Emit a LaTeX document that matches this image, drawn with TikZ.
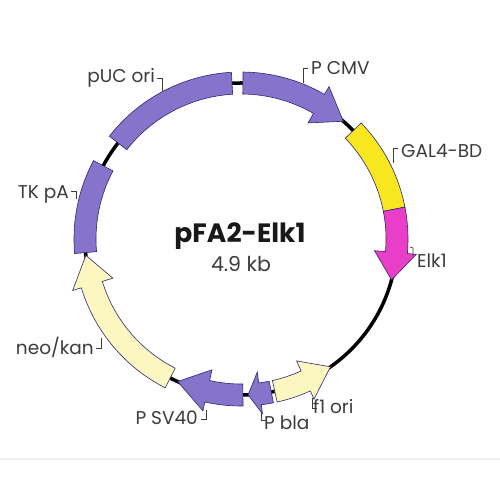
\documentclass[tikz,border=0pt]{standalone}
\usepackage{fontspec}
\setmainfont{Poppins}
\definecolor{purp}{RGB}{134,116,204}
\definecolor{purpline}{RGB}{48,40,110}
\definecolor{gal}{RGB}{248,230,30}
\definecolor{elk}{RGB}{232,62,200}
\definecolor{pale}{RGB}{252,246,192}
\definecolor{txt}{RGB}{60,60,60}
\newcommand{\plseg}[3]{\draw[feat,#1] (#2:167pt) arc[start angle=#2,end angle=#3,radius=167pt] -- (#3:145pt) arc[start angle=#3,end angle=#2,radius=145pt] -- cycle;}
\newcommand{\plarr}[4]{\draw[feat,#1] (#2:167pt) arc[start angle=#2,end angle=#3,radius=167pt] -- (#3:176pt) -- (#4:156pt) -- (#3:134pt) -- (#3:145pt) arc[start angle=#3,end angle=#2,radius=145pt] -- cycle;}
\begin{document}
\begin{tikzpicture}[x=1pt,y=1pt,
  feat/.style={draw=purpline,line width=0.6pt,line join=miter},
  lbl/.style={font=\fontsize{18.5}{20}\selectfont,text=txt,inner sep=0pt},
  tick/.style={draw=txt,line width=0.7pt}]
\useasboundingbox[fill=white] (0,0) rectangle (500,500);
\draw[gray!12,line width=1.5pt] (0,41) -- (500,41);
\begin{scope}[shift={(241,261)}]
  \draw[line width=3.5pt] (0,0) circle[radius=156pt];
  \plseg{fill=purp}{142}{93.3}
  \plarr{fill=purp}{89.3}{60}{49}
  \plseg{fill=gal}{44}{11}
  \plarr{fill=elk}{11}{-5}{-15.2}
  \plarr{fill=pale}{-77.5}{-65.5}{-55}
  \plarr{fill=purp}{-78.8}{-83}{-87.4}
  \plarr{fill=purp}{-89.3}{-102.5}{-114}
  \plarr{fill=pale}{243}{197}{186}
  \plseg{fill=purp}{185}{152}
\end{scope}
\node[font=\fontsize{26.5}{30}\selectfont\bfseries,text=black!90,anchor=base] (title) at (240,257) {pFA2-Elk1};
\node[font=\fontsize{20.5}{22}\selectfont,text=txt,anchor=base] (size) at (241,228) {4.9 kb};
\node[lbl,anchor=base east] (puc) at (155,417) {pUC ori};
\node[lbl,anchor=base west] (cmv) at (311,425) {P CMV};
\node[lbl,anchor=base west] (gal4) at (401,342) {GAL4-BD};
\node[lbl,anchor=base west] (elk1) at (417,232) {Elk1};
\node[lbl,anchor=base east] (tkpa) at (69,301) {TK pA};
\node[lbl,anchor=base east] (neo) at (94,145) {neo/kan};
\node[lbl,anchor=base east] (sv40) at (198,75) {P SV40};
\node[lbl,anchor=base west] (pbla) at (264,70) {P bla};
\node[lbl,anchor=base west] (f1) at (313,86) {f1 ori};
\draw[tick] (157,422) -- (162,422) -- (162,409);
\draw[tick] (308,432) -- (303,432) -- (303,417);
\draw[tick] (398,352) -- (393,352) -- (393,337);
\draw[tick] (410,253) -- (413,252) -- (413,244);
\draw[tick] (71,309) -- (76,309) -- (76,301);
\draw[tick] (96,152) -- (101,152) -- (101,162);
\draw[tick] (201,81) -- (206,81) -- (206,90);
\draw[tick] (266,80) -- (261,80) -- (261,88);
\draw[tick] (317,92) -- (312,92) -- (312,102);
\end{tikzpicture}
\end{document}
